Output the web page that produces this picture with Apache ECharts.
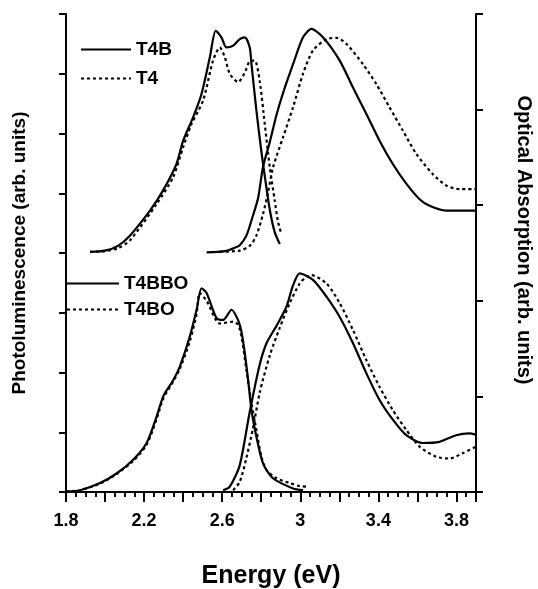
<!DOCTYPE html>
<html>
<head>
<meta charset="utf-8">
<script src="https://cdn.jsdelivr.net/npm/echarts@6/dist/echarts.min.js"></script>
<style>html,body{margin:0;padding:0;background:#fff;}#c{width:538px;height:589px;}</style>
</head>
<body>
<div id="c"></div>
<script>
// Energy (eV) / intensity (arb. units, stacked: upper panel offset ~4)
var xTickLabels = ['1.8', '2.2', '2.6', '3', '3.4', '3.8'];

var plT4B = [[1.923,4.02],[2.0,4.04],[2.066,4.12],[2.127,4.29],[2.23,4.71],[2.296,5.04],[2.366,5.49],[2.40,5.88],[2.451,6.27],[2.494,6.66],[2.537,7.28],[2.567,7.72],[2.596,7.61],[2.622,7.44],[2.656,7.47],[2.69,7.58],[2.716,7.61],[2.741,7.44],[2.750,7.16],[2.775,6.39],[2.801,5.69],[2.818,5.29],[2.844,4.72],[2.869,4.35],[2.895,4.15]];
var plT4 = [[1.923,4.02],[2.0,4.03],[2.066,4.08],[2.127,4.21],[2.264,4.82],[2.349,5.27],[2.40,5.77],[2.443,6.16],[2.502,6.55],[2.553,7.22],[2.588,7.44],[2.613,7.28],[2.639,7.00],[2.681,6.86],[2.716,7.02],[2.741,7.21],[2.767,7.22],[2.792,6.88],[2.818,6.16],[2.844,5.43],[2.869,4.88],[2.886,4.52],[2.903,4.32]];
var absT4B = [[2.52,4.01],[2.613,4.03],[2.673,4.10],[2.69,4.13],[2.724,4.29],[2.757,4.62],[2.784,4.92],[2.809,5.44],[2.844,5.86],[2.878,6.31],[2.912,6.68],[2.963,7.16],[3.014,7.61],[3.057,7.75],[3.116,7.61],[3.202,7.22],[3.27,6.77],[3.338,6.33],[3.406,5.88],[3.474,5.49],[3.543,5.16],[3.611,4.90],[3.662,4.79],[3.747,4.71],[3.9,4.71]];
var absT4 = [[2.588,4.02],[2.69,4.04],[2.741,4.12],[2.775,4.29],[2.809,4.65],[2.835,5.02],[2.86,5.43],[2.912,5.94],[2.963,6.44],[3.014,7.00],[3.065,7.39],[3.134,7.58],[3.185,7.60],[3.236,7.50],[3.321,7.16],[3.389,6.83],[3.457,6.44],[3.525,6.05],[3.594,5.66],[3.679,5.32],[3.747,5.13],[3.815,5.07],[3.9,5.07]];

var plT4BBO = [[1.80,0.01],[1.872,0.03],[1.974,0.15],[2.059,0.31],[2.144,0.54],[2.213,0.82],[2.264,1.26],[2.298,1.60],[2.349,1.87],[2.383,2.10],[2.434,2.60],[2.469,3.05],[2.494,3.41],[2.52,3.33],[2.571,2.91],[2.605,2.88],[2.648,3.05],[2.681,2.88],[2.699,2.68],[2.716,2.32],[2.733,1.87],[2.75,1.37],[2.775,0.93],[2.809,0.48],[2.86,0.23],[2.963,0.06],[3.014,0.03]];
var plT4BO = [[1.80,0.01],[1.872,0.03],[1.974,0.14],[2.059,0.30],[2.144,0.52],[2.213,0.79],[2.264,1.22],[2.298,1.56],[2.349,1.85],[2.383,2.06],[2.434,2.52],[2.469,2.98],[2.485,3.33],[2.52,3.20],[2.588,2.82],[2.656,2.85],[2.681,2.80],[2.699,2.60],[2.724,2.04],[2.75,1.49],[2.775,1.04],[2.801,0.59],[2.827,0.37],[2.878,0.23],[2.946,0.15],[2.997,0.10],[3.031,0.09]];
var absT4BBO = [[2.605,0.03],[2.639,0.09],[2.69,0.45],[2.741,1.34],[2.792,2.13],[2.827,2.49],[2.878,2.78],[2.929,3.10],[2.963,3.46],[2.997,3.66],[3.065,3.55],[3.134,3.27],[3.202,2.93],[3.27,2.49],[3.338,1.99],[3.406,1.54],[3.474,1.21],[3.543,0.95],[3.628,0.82],[3.713,0.84],[3.798,0.95],[3.866,0.98],[3.9,0.96]];
var absT4BO = [[2.656,0.03],[2.69,0.17],[2.724,0.57],[2.758,1.07],[2.792,1.66],[2.844,2.29],[2.895,2.75],[2.946,3.16],[2.997,3.49],[3.031,3.60],[3.057,3.63],[3.134,3.49],[3.202,3.16],[3.27,2.71],[3.338,2.21],[3.406,1.76],[3.474,1.37],[3.543,1.04],[3.611,0.76],[3.696,0.59],[3.764,0.56],[3.832,0.65],[3.9,0.76]];

var FONT = '"Liberation Sans", Arial, sans-serif';
var chart = echarts.init(document.getElementById('c'), null, {renderer: 'canvas'});

function ln(name, data, dotted) {
  return {
    name: name, type: 'line', data: data, xAxisIndex: 0, yAxisIndex: 0,
    symbol: 'none', smooth: 0.25,
    lineStyle: {color: '#000', width: 2.2, type: dotted ? [3, 3] : 'solid'},
    itemStyle: {color: '#000'},
    silent: true
  };
}

var legendText = {fontFamily: FONT, fontWeight: 'bold', fontSize: 19, color: '#000'};
var option = {
  animation: false,
  backgroundColor: '#fff',
  grid: {left: 66, right: 62, top: 14, bottom: 97, containLabel: false, outerBoundsMode: 'none'},
  legend: [
    {data: ['T4B', 'T4'], orient: 'vertical', left: 80, top: 40, padding: 0, itemWidth: 50, itemHeight: 14, itemGap: 10,
     itemStyle: {opacity: 0}, textStyle: legendText, selectedMode: false},
    {data: ['T4BBO', 'T4BO'], orient: 'vertical', left: 66, top: 274, padding: 0, itemWidth: 52, itemHeight: 14, itemGap: 7,
     itemStyle: {opacity: 0}, textStyle: legendText, selectedMode: false}
  ],
  xAxis: [
    {type: 'value', position: 'bottom', min: 1.8, max: 3.9, interval: 0.2,
     name: 'Energy (eV)', nameLocation: 'middle', nameGap: 72,
     nameTextStyle: {fontFamily: FONT, fontWeight: 'bold', fontSize: 25, color: '#000'},
     axisLine: {show: true, lineStyle: {color: '#000', width: 2}},
     axisTick: {show: true, inside: false, length: 10, lineStyle: {color: '#000', width: 2}},
     minorTick: {show: true, splitNumber: 4, length: 5, lineStyle: {color: '#000', width: 1.5}},
     splitLine: {show: false},
     axisLabel: {margin: 20, fontFamily: FONT, fontWeight: 'bold', fontSize: 18, color: '#000',
       formatter: function (v) {
         var s = String(Math.round(v * 10) / 10);
         return xTickLabels.indexOf(s) >= 0 ? s : '';
       }}
    },
    {type: 'value', position: 'top', min: 1.8, max: 3.9, interval: 0.2,
     axisLine: {show: true, lineStyle: {color: '#000', width: 2}},
     axisTick: {show: true, inside: true, length: 8, lineStyle: {color: '#000', width: 2}},
     minorTick: {show: true, splitNumber: 4, length: 5, lineStyle: {color: '#000', width: 1.5}},
     splitLine: {show: false}, axisLabel: {show: false}}
  ],
  yAxis: [
    {type: 'value', position: 'left', min: 0, max: 8, interval: 1,
     name: 'Photoluminescence (arb. units)', nameLocation: 'middle', nameGap: 37,
     nameTextStyle: {fontFamily: FONT, fontWeight: 'bold', fontSize: 19, color: '#000'},
     axisLine: {show: true, lineStyle: {color: '#000', width: 2}},
     axisTick: {show: true, inside: false, length: 7, lineStyle: {color: '#000', width: 2}},
     splitLine: {show: false}, axisLabel: {show: false}},
    {type: 'value', position: 'right', min: 0, max: 5, interval: 1,
     name: 'Optical Absorption (arb. units)', nameLocation: 'middle', nameGap: 38, nameRotate: -90,
     nameTextStyle: {fontFamily: FONT, fontWeight: 'bold', fontSize: 20, color: '#000', padding: [0, 26, 0, 0]},
     axisLine: {show: true, lineStyle: {color: '#000', width: 2}},
     axisTick: {show: true, inside: false, length: 7, lineStyle: {color: '#000', width: 2}},
     splitLine: {show: false}, axisLabel: {show: false}}
  ],
  series: [
    ln('T4B', plT4B, false),
    ln('T4', plT4, true),
    ln('T4B', absT4B, false),
    ln('T4', absT4, true),
    ln('T4BBO', plT4BBO, false),
    ln('T4BO', plT4BO, true),
    ln('T4BBO', absT4BBO, false),
    ln('T4BO', absT4BO, true)
  ]
};
chart.setOption(option);
</script>
</body>
</html>
